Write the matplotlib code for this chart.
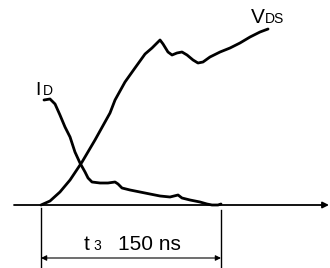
import matplotlib
matplotlib.use("Agg")
import matplotlib.pyplot as plt

# time in ns, amplitude in arbitrary units
vds_t = [0, 7.5, 15.8, 24.2, 34.2, 45, 57.5, 61.7, 70, 78.3, 86.7, 92.5, 97.5, 99.2,
         101.7, 105.8, 109.2, 113.3, 117.5, 121.7, 126.7, 130.8, 135, 140.8, 149.2,
         157.5, 165.8, 174.2, 182.5, 189.2]
vds_v = [0, 4, 13, 25, 43, 65, 92, 105, 123, 137, 151, 157, 163, 165,
         161, 153, 150, 152, 153, 150, 145, 142, 143, 148, 153,
         157, 162, 168, 173, 176]

id_t = [2.5, 7.5, 11.7, 15.8, 20, 24.2, 28.3, 32.5, 36.7, 39.2, 42.5, 49.2, 55.8,
        61.7, 64.2, 67.5, 74.2, 82.5, 90.8, 99.2, 107.5, 114.2, 117.5, 124.2,
        132.5, 138.3, 142.5, 147.5, 150]
id_v = [105, 106, 101, 90, 78, 68, 53, 42, 33, 27, 23, 22, 22,
        23, 21, 17, 15, 13, 11, 9, 8, 10, 7, 5,
        3, 1, 0, 0, 1]

t3_ns = 150
t3_label = "150 ns"

px = 1 / 100
fig = plt.figure(figsize=(330 * px, 268 * px), dpi=100)
ax = fig.add_axes([0, 0, 1, 1])
ax.set_xlim(-41 / 1.2, (330 - 41) / 1.2)
ax.set_ylim(-63, 205)
ax.axis("off")

font = ["Liberation Sans", "DejaVu Sans"]

ax.plot(vds_t, vds_v, color="black", lw=2.0, solid_capstyle="round",
        solid_joinstyle="round")
ax.plot(id_t, id_v, color="black", lw=2.0, solid_capstyle="round",
        solid_joinstyle="round")

# time axis with arrow
ax.annotate("", xy=((329 - 41) / 1.2, 0), xytext=((14 - 41) / 1.2, 0),
            arrowprops=dict(arrowstyle="-|>", color="black", lw=1.3,
                            mutation_scale=9, shrinkA=0, shrinkB=0))

# dimension lines
ax.plot([0, 0], [-3, -63], color="black", lw=1.0)
ax.plot([t3_ns, t3_ns], [-5, -63], color="black", lw=1.0)
ax.annotate("", xy=(0, -53), xytext=(t3_ns, -53),
            arrowprops=dict(arrowstyle="<|-|>", color="black", lw=0.8,
                            mutation_scale=8, shrinkA=0, shrinkB=0))

# labels
ax.text(35.8, -45, "t", fontsize=15, family=font, ha="left", va="baseline")
ax.text(43.3, -45, "3", fontsize=10, family=font, ha="left", va="baseline")
ax.text(64.2, -45, t3_label, fontsize=15, family=font, ha="left", va="baseline")

ax.text(-5, 110, "I", fontsize=14, family=font, ha="left", va="baseline")
ax.text(1.7, 110, "D", fontsize=10, family=font, ha="left", va="baseline")

ax.text(175, 182, "V", fontsize=15, family=font, ha="left", va="baseline")
ax.text(186.7, 182, "DS", fontsize=10, family=font, ha="left", va="baseline")

fig.savefig("out.png", dpi=100)
